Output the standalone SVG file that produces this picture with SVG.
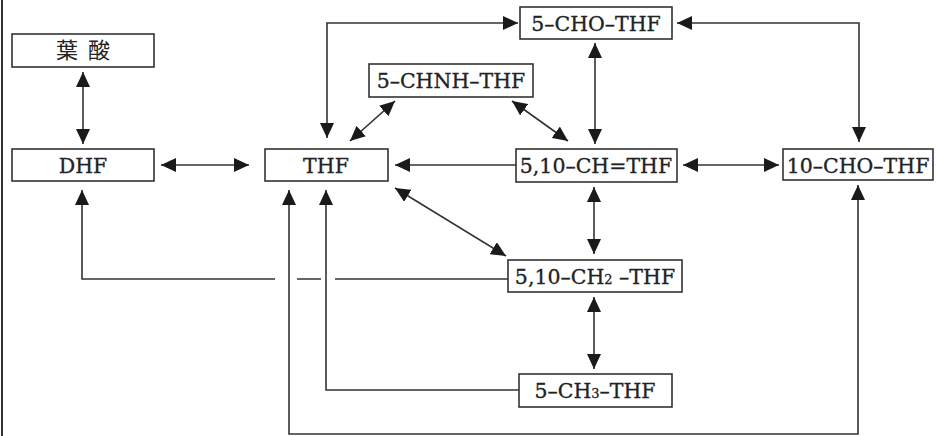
<svg xmlns="http://www.w3.org/2000/svg" width="936" height="436" viewBox="0 0 936 436">
<style>
.box{fill:#fff;stroke:#333;stroke-width:1.6}
.t{font-family:"DejaVu Serif","Liberation Serif",serif;font-size:20.5px;fill:#222;stroke:#222;stroke-width:0.3;text-anchor:middle}
.j{font-family:"Noto Sans CJK JP",sans-serif;font-size:22px;fill:#222;text-anchor:middle}
.c{fill:none;stroke:#333;stroke-width:1.6}
.b{marker-start:url(#ah);marker-end:url(#ah)}
.e{marker-end:url(#ah)}
</style>
<defs>
<marker id="ah" markerUnits="userSpaceOnUse" markerWidth="15" markerHeight="14" refX="15" refY="7" orient="auto-start-reverse" viewBox="0 0 15 14">
<path d="M0,0 L15,7 L0,14 z" fill="#1a1a1a"/>
</marker>
</defs>
<rect width="936" height="436" fill="#fff"/>
<line x1="2" y1="0" x2="2" y2="436" stroke="#333" stroke-width="2"/>
<g id="connectors">
<line class="c b" x1="83" y1="72" x2="83" y2="144"/>
<line class="c b" x1="161" y1="165" x2="249" y2="165"/>
<path class="c b" d="M327,138 V23 H518"/>
<line class="c b" x1="350" y1="141" x2="395" y2="101"/>
<line class="c b" x1="512" y1="101" x2="568" y2="141"/>
<line class="c b" x1="595" y1="43" x2="595" y2="144"/>
<line class="c e" x1="516" y1="165" x2="395" y2="165"/>
<path class="c b" d="M859,142 V23 H677"/>
<line class="c b" x1="683" y1="165" x2="779" y2="165"/>
<line class="c b" x1="395" y1="188" x2="506" y2="256"/>
<line class="c b" x1="594" y1="187" x2="594" y2="254"/>
<line class="c b" x1="594" y1="297" x2="594" y2="369"/>
<path class="c" d="M508,279 H335 M321,279 H297"/>
<path class="c e" d="M275,279 H82 V190"/>
<path class="c e" d="M519,390 H326 V190"/>
<path class="c b" d="M289,190 V434 H858 V185"/>
</g>
<g id="folic"><rect class="box" x="12" y="34" width="142" height="33"/><text class="j" x="83" y="58"><tspan x="67">葉</tspan><tspan x="99">酸</tspan></text></g>
<g id="dhf"><rect class="box" x="12" y="149" width="142" height="32"/><text class="t" x="83" y="173">DHF</text></g>
<g id="thf"><rect class="box" x="265" y="149" width="123" height="32"/><text class="t" x="326" y="173">THF</text></g>
<g id="cho5"><rect class="box" x="520" y="7" width="152" height="32"/><text class="t" x="596" y="31">5–CHO–THF</text></g>
<g id="chnh"><rect class="box" x="369" y="64" width="164" height="33"/><text class="t" x="451" y="88">5–CHNH–THF</text></g>
<g id="chthf"><rect class="box" x="516" y="149" width="161" height="33"/><text class="t" x="596" y="173">5,10–CH=THF</text></g>
<g id="cho10"><rect class="box" x="783" y="149" width="150" height="31"/><text class="t" x="858" y="173">10–CHO–THF</text></g>
<g id="ch2"><rect class="box" x="508" y="260" width="174" height="32"/><text class="t" x="595" y="284">5,10–CH<tspan font-size="13">2</tspan>  –THF</text></g>
<g id="ch3"><rect class="box" x="519" y="374" width="153" height="33"/><text class="t" x="595" y="398">5–CH<tspan font-size="13">3</tspan>–THF</text></g>
</svg>
